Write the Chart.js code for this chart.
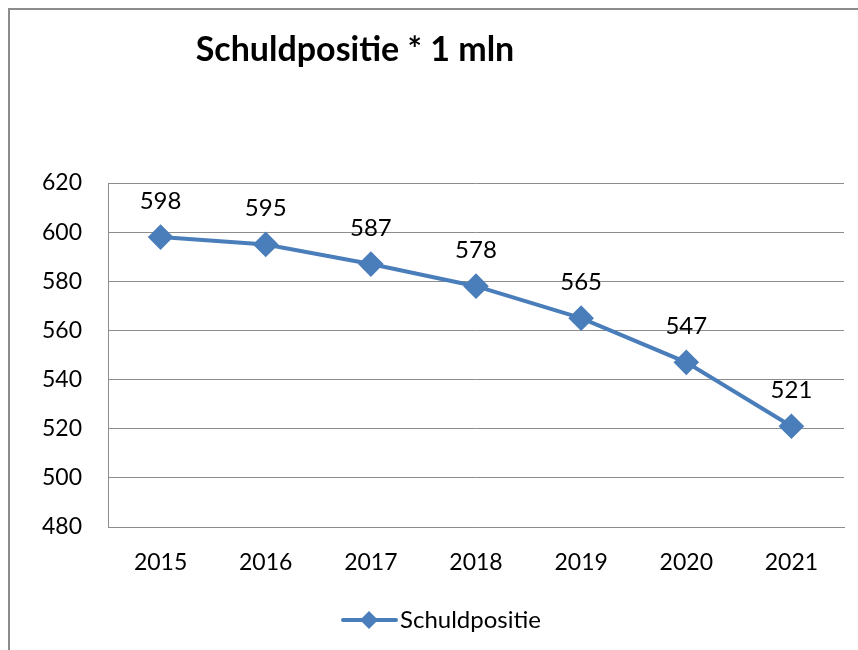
<!DOCTYPE html>
<html>
<head>
<meta charset="utf-8">
<script src="https://cdn.jsdelivr.net/npm/chart.js@4/dist/chart.umd.min.js"></script>
<style>
  body { margin: 0; background: #fff; }
  #wrap { position: relative; width: 858px; height: 650px; overflow: hidden; }
  #frame { position: absolute; left: 8px; top: 8px; width: 900px; height: 700px;
           border-left: 2px solid #8c8c8c; border-top: 2px solid #8c8c8c; box-sizing: border-box; }
  canvas { position: absolute; left: 0; top: 0; }
</style>
</head>
<body>
<div id="wrap">
  <div id="frame"></div>
  <canvas id="myChart" width="858" height="650"></canvas>
</div>
<script>
// data
var years = ['2015', '2016', '2017', '2018', '2019', '2020', '2021'];
var schuldpositie = [598, 595, 587, 578, 565, 547, 521];
var yTicks = [480, 500, 520, 540, 560, 580, 600, 620];

var chartTitle = 'Schuldpositie * 1 mln';
var seriesName = 'Schuldpositie';
var blue = '#4a7ebb';
var font = 'Lato, "Open Sans", sans-serif';

// labels above points, title and legend drawn by hand
var extras = {
  id: 'extras',
  afterDatasetsDraw: function(chart) {
    var ctx = chart.ctx;
    var meta = chart.getDatasetMeta(0);
    ctx.save();
    ctx.fillStyle = '#000';
    ctx.font = '24px ' + font;
    ctx.textAlign = 'center';
    ctx.textBaseline = 'middle';
    meta.data.forEach(function(pt, i) {
      ctx.fillText(String(chart.data.datasets[0].data[i]), pt.x, pt.y - 36);
    });

    // title
    ctx.font = 'bold 34px ' + font;
    ctx.fillText(chartTitle, 355, 50);

    // legend
    var ly = 620;
    ctx.strokeStyle = blue;
    ctx.lineWidth = 4;
    ctx.lineCap = 'round';
    ctx.beginPath();
    ctx.moveTo(343, ly);
    ctx.lineTo(396, ly);
    ctx.stroke();
    ctx.fillStyle = blue;
    ctx.beginPath();
    ctx.moveTo(369, ly - 9);
    ctx.lineTo(378, ly);
    ctx.lineTo(369, ly + 9);
    ctx.lineTo(360, ly);
    ctx.closePath();
    ctx.fill();
    ctx.fillStyle = '#000';
    ctx.font = '24px ' + font;
    ctx.textAlign = 'left';
    ctx.fillText(seriesName, 400, ly);
    ctx.restore();
  }
};

var ctx = document.getElementById('myChart').getContext('2d');
new Chart(ctx, {
  type: 'line',
  data: {
    labels: years,
    datasets: [{
      label: seriesName,
      data: schuldpositie,
      borderColor: blue,
      backgroundColor: blue,
      borderWidth: 4,
      pointStyle: 'rectRot',
      pointRadius: 10,
      pointHoverRadius: 10,
      tension: 0
    }]
  },
  options: {
    responsive: false,
    animation: false,
    layout: { padding: { top: 183, right: 0, left: 0, bottom: 0 } },
    plugins: {
      legend: { display: false },
      title: { display: false },
      tooltip: { enabled: false }
    },
    scales: {
      x: {
        offset: true,
        grid: { display: false, drawTicks: false },
        border: { display: true, color: '#8c8c8c', width: 1 },
        ticks: { color: '#000', font: { size: 23, family: font }, padding: 22 },
        afterFit: function(s) { s.height = 123; }
      },
      y: {
        min: 480,
        max: 620,
        afterBuildTicks: function(s) { s.ticks = yTicks.map(function(v) { return { value: v }; }); },
        grid: { color: '#8c8c8c', drawTicks: false },
        border: { display: true, color: '#8c8c8c', width: 1 },
        ticks: { color: '#000', font: { size: 23, family: font }, padding: 26 },
        afterFit: function(s) { s.width = 108; }
      }
    }
  },
  plugins: [extras]
});
</script>
</body>
</html>
